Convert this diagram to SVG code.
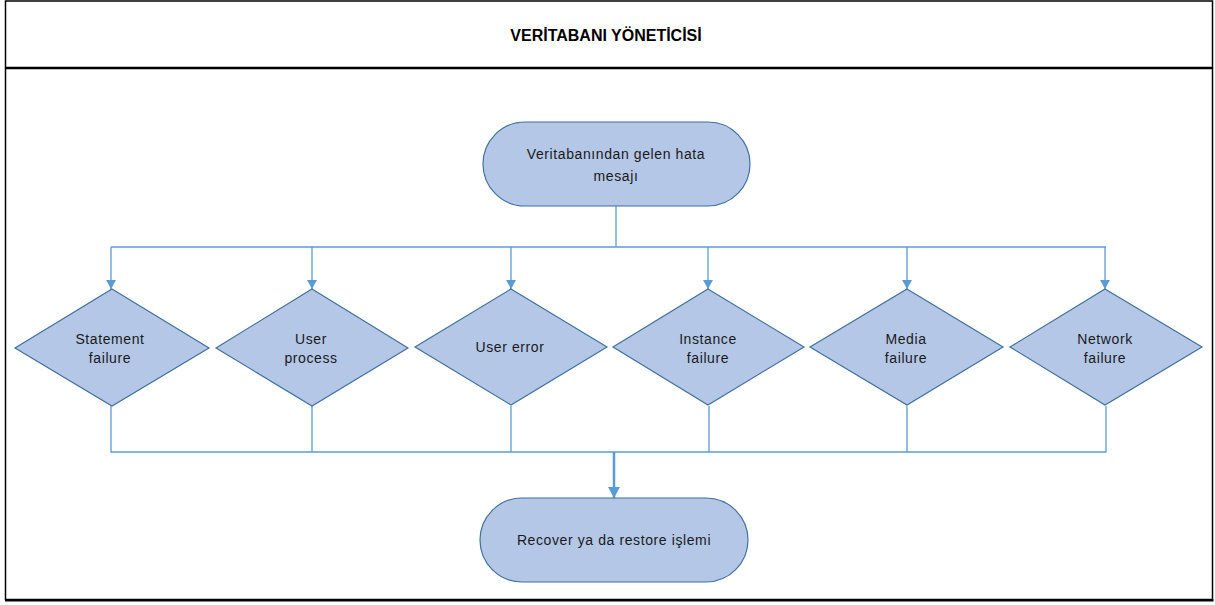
<svg xmlns="http://www.w3.org/2000/svg" width="1215" height="605" viewBox="0 0 1215 605">
<defs>
<style>
.frame{fill:#ffffff;stroke:#000000;stroke-width:1.5}
.node{fill:#b4c7e7;stroke:#41719c;stroke-width:1.2}
.lbl{font-family:"Liberation Sans",Arial,sans-serif;font-size:14px;fill:#1a1a1a;text-anchor:middle;letter-spacing:0.6px}
.title{font-family:"Liberation Sans",Arial,sans-serif;font-size:16px;font-weight:bold;fill:#000;text-anchor:middle}
.conn{fill:none;stroke:#5b9bd5;stroke-width:1.3}
.conn2{fill:none;stroke:#5b9bd5;stroke-width:2.5}
</style>
<marker id="ah" markerUnits="userSpaceOnUse" markerWidth="10" markerHeight="10" refX="9" refY="5" orient="auto">
<path d="M0,0 L9,5 L0,10 Z" fill="#5b9bd5"/>
</marker>
<marker id="ah2" markerUnits="userSpaceOnUse" markerWidth="12" markerHeight="12" refX="11" refY="6" orient="auto">
<path d="M0,0 L11,6 L0,12 Z" fill="#5b9bd5"/>
</marker>
</defs>
<rect width="1215" height="605" fill="#ffffff"/>
<g id="frame">
<rect class="frame" x="5.5" y="1" width="1207" height="66.5"/>
<rect class="frame" x="5.5" y="68.5" width="1207" height="531" stroke-width="2"/>
<line x1="5" y1="600.5" x2="1213.5" y2="600.5" stroke="#000" stroke-width="2"/>
<text class="title" x="606" y="41">VERİTABANI YÖNETİCİSİ</text>
</g>
<g id="connectors">
<path class="conn" d="M616,206 V247"/>
<path class="conn" d="M111,247 H1106"/>
<path class="conn" d="M111,247 V289" marker-end="url(#ah)"/>
<path class="conn" d="M312,247 V289" marker-end="url(#ah)"/>
<path class="conn" d="M511,247 V289" marker-end="url(#ah)"/>
<path class="conn" d="M708,247 V289" marker-end="url(#ah)"/>
<path class="conn" d="M907,247 V289" marker-end="url(#ah)"/>
<path class="conn" d="M1105,247 V289" marker-end="url(#ah)"/>
<path class="conn" d="M111,406 V452 H1106 V406"/>
<path class="conn" d="M312,406 V452"/>
<path class="conn" d="M511,406 V452"/>
<path class="conn" d="M709,406 V452"/>
<path class="conn" d="M907,406 V452"/>
<path class="conn2" d="M614,452 V498" marker-end="url(#ah2)"/>
</g>
<g id="start">
<rect class="node" x="483" y="122" width="267" height="84" rx="42" ry="42"/>
<text class="lbl" x="616" y="159">Veritabanından gelen hata</text>
<text class="lbl" x="616" y="181">mesajı</text>
</g>
<g id="statement">
<polygon class="node" points="112,289 209,348 112,406 15,348"/>
<text class="lbl" x="110" y="344">Statement</text>
<text class="lbl" x="110" y="363">failure</text>
</g>
<g id="userprocess">
<polygon class="node" points="312,289 408,348 312,406 216,348"/>
<text class="lbl" x="311" y="344">User</text>
<text class="lbl" x="311" y="363">process</text>
</g>
<g id="usererror">
<polygon class="node" points="511,289 607,347 511,405 415,347"/>
<text class="lbl" x="510" y="352">User error</text>
</g>
<g id="instance">
<polygon class="node" points="708,289 804,347 708,405 613,347"/>
<text class="lbl" x="708" y="344">Instance</text>
<text class="lbl" x="708" y="363">failure</text>
</g>
<g id="media">
<polygon class="node" points="907,289 1003,347 907,405 810,347"/>
<text class="lbl" x="906" y="344">Media</text>
<text class="lbl" x="906" y="363">failure</text>
</g>
<g id="network">
<polygon class="node" points="1105,289 1202,347 1105,405 1010,347"/>
<text class="lbl" x="1105" y="344">Network</text>
<text class="lbl" x="1105" y="363">failure</text>
</g>
<g id="end">
<rect class="node" x="480" y="498" width="268" height="84" rx="42" ry="42"/>
<text class="lbl" x="614" y="545">Recover ya da restore işlemi</text>
</g>
</svg>
